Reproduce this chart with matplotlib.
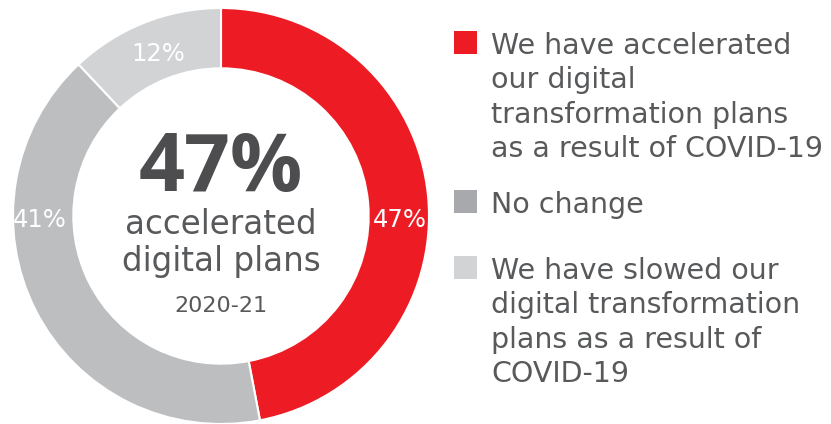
import matplotlib
matplotlib.use("Agg")
import matplotlib.pyplot as plt
from matplotlib.patches import Rectangle

# data
labels = ["We have accelerated\nour digital\ntransformation plans\nas a result of COVID-19",
          "No change",
          "We have slowed our\ndigital transformation\nplans as a result of\nCOVID-19"]
values = [47, 41, 12]
pct_labels = ["47%", "41%", "12%"]
ring_colors = ["#ED1C24", "#BCBEC0", "#D1D3D4"]
legend_colors = ["#ED1C24", "#A7A9AC", "#D1D3D4"]

plt.rcParams['font.family'] = ['DejaVu Sans']
TEXT = "#58595B"

W, H = 831, 424
fig = plt.figure(figsize=(W / 100, H / 100), dpi=100)

# donut, centre (221, 216) px, outer radius 208 px
cx, cy, r = 221, 216, 208
ax = fig.add_axes([(cx - r) / W, (H - cy - r) / H, 2 * r / W, 2 * r / H])
wedges, texts = ax.pie(values, colors=ring_colors, startangle=90, counterclock=False,
                       radius=1, wedgeprops=dict(width=0.29, edgecolor="white", linewidth=1.5))
ax.set_xlim(-1, 1)
ax.set_ylim(-1, 1)
ax.set_aspect("equal")
ax.axis("off")

# ring labels (placed like the original, not at wedge midpoints)
label_pos = [(0.86, -0.02), (-0.87, -0.02), (-0.30, 0.78)]
for txt, (x, y) in zip(pct_labels, label_pos):
    ax.text(x, y, txt, color="white", fontsize=17.5, ha="center", va="center")

# centre text
ax.text(0, 0.118, "47%", fontsize=58, fontweight="bold", color="#4D4D4F",
        family="Open Sans", ha="center", va="baseline")
ax.text(0, -0.085, "accelerated", fontsize=23.5, color=TEXT, ha="center", va="baseline")
ax.text(0, -0.265, "digital plans", fontsize=23.5, color=TEXT, ha="center", va="baseline")
ax.text(0, -0.46, "2020-21", fontsize=16, color=TEXT, ha="center", va="baseline")

# legend
tops = [31, 190, 256]
for lab, col, top in zip(labels, legend_colors, tops):
    fig.add_artist(Rectangle((454 / W, 1 - (top + 23) / H), 23 / W, 23 / H,
                             transform=fig.transFigure, facecolor=col, edgecolor="none"))
    fig.text(491 / W, 1 - (top + 1) / H, lab, fontsize=20.5, color=TEXT,
             ha="left", va="top", linespacing=1.29)

fig.savefig("out.png", dpi=100)
